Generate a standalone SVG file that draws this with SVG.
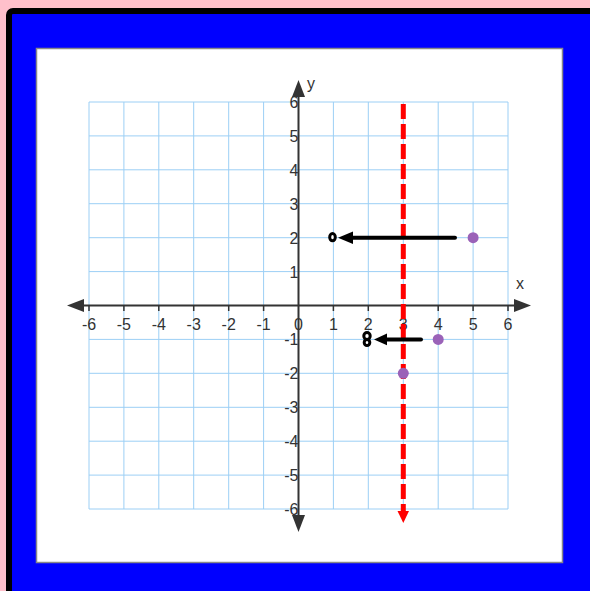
<svg xmlns="http://www.w3.org/2000/svg" width="590" height="591" viewBox="0 0 590 591">
<style>
.grid line{stroke:#9ccff5;stroke-width:1}
.axis{stroke:#333;stroke-width:2}
.ah{fill:#333}
.tick{stroke:#333;stroke-width:1.5}
.lbl{font-family:"Liberation Sans",Arial,sans-serif;font-size:16px;fill:#333}
.xl{text-anchor:middle}
.yl{text-anchor:end}
.pt{fill:#9a62b8}
.mv{stroke:#000;stroke-width:4;stroke-linecap:round}
.mark{fill:#fff;stroke:#000;stroke-width:3}
</style>
<rect x="0" y="0" width="590" height="591" fill="#ffc0cb"/>
<rect x="9" y="11" width="620" height="620" rx="4" fill="#0000ff" stroke="#000" stroke-width="6"/>
<rect x="36.5" y="48.5" width="526" height="514" fill="#fff" stroke="#888" stroke-width="1.5"/>
<g id="grid" class="grid">
<line x1="89" y1="102" x2="89" y2="509"/>
<line x1="123.9" y1="102" x2="123.9" y2="509"/>
<line x1="158.8" y1="102" x2="158.8" y2="509"/>
<line x1="193.7" y1="102" x2="193.7" y2="509"/>
<line x1="228.7" y1="102" x2="228.7" y2="509"/>
<line x1="263.6" y1="102" x2="263.6" y2="509"/>
<line x1="333.4" y1="102" x2="333.4" y2="509"/>
<line x1="368.3" y1="102" x2="368.3" y2="509"/>
<line x1="403.3" y1="102" x2="403.3" y2="509"/>
<line x1="438.2" y1="102" x2="438.2" y2="509"/>
<line x1="473.1" y1="102" x2="473.1" y2="509"/>
<line x1="508" y1="102" x2="508" y2="509"/>
<line x1="89" y1="102" x2="508" y2="102"/>
<line x1="89" y1="135.9" x2="508" y2="135.9"/>
<line x1="89" y1="169.8" x2="508" y2="169.8"/>
<line x1="89" y1="203.7" x2="508" y2="203.7"/>
<line x1="89" y1="237.7" x2="508" y2="237.7"/>
<line x1="89" y1="271.6" x2="508" y2="271.6"/>
<line x1="89" y1="339.4" x2="508" y2="339.4"/>
<line x1="89" y1="373.3" x2="508" y2="373.3"/>
<line x1="89" y1="407.3" x2="508" y2="407.3"/>
<line x1="89" y1="441.2" x2="508" y2="441.2"/>
<line x1="89" y1="475.1" x2="508" y2="475.1"/>
<line x1="89" y1="509" x2="508" y2="509"/>
</g>
<g id="axes">
<line class="axis" x1="82" y1="305.5" x2="516" y2="305.5"/>
<polygon class="ah" points="67,305.5 84,299 84,312"/>
<polygon class="ah" points="531,305.5 514,299 514,312"/>
<line class="axis" x1="298.5" y1="95" x2="298.5" y2="517"/>
<polygon class="ah" points="298.5,80 292,97 305,97"/>
<polygon class="ah" points="298.5,532 292,515 305,515"/>
<g class="tick">
<line x1="89" y1="305.5" x2="89" y2="311"/><line x1="123.9" y1="305.5" x2="123.9" y2="311"/><line x1="158.8" y1="305.5" x2="158.8" y2="311"/><line x1="193.7" y1="305.5" x2="193.7" y2="311"/><line x1="228.7" y1="305.5" x2="228.7" y2="311"/><line x1="263.6" y1="305.5" x2="263.6" y2="311"/><line x1="333.4" y1="305.5" x2="333.4" y2="311"/><line x1="368.3" y1="305.5" x2="368.3" y2="311"/><line x1="403.3" y1="305.5" x2="403.3" y2="311"/><line x1="438.2" y1="305.5" x2="438.2" y2="311"/><line x1="473.1" y1="305.5" x2="473.1" y2="311"/><line x1="508" y1="305.5" x2="508" y2="311"/>
</g>
<text class="lbl" x="520" y="289" text-anchor="middle">x</text>
<text class="lbl" x="311" y="89" text-anchor="middle">y</text>
<g class="lbl xl">
<text x="89" y="330">-6</text><text x="123.9" y="330">-5</text><text x="158.8" y="330">-4</text><text x="193.7" y="330">-3</text><text x="228.7" y="330">-2</text><text x="263.6" y="330">-1</text><text x="298.5" y="330">0</text><text x="333.4" y="330">1</text><text x="368.3" y="330">2</text><text x="403.3" y="330">3</text><text x="438.2" y="330">4</text><text x="473.1" y="330">5</text><text x="508" y="330">6</text>
</g>
<g class="lbl yl">
<text x="298.5" y="108">6</text><text x="298.5" y="141.9">5</text><text x="298.5" y="175.8">4</text><text x="298.5" y="209.7">3</text><text x="298.5" y="243.7">2</text><text x="298.5" y="277.6">1</text><text x="298.5" y="345.4">-1</text><text x="298.5" y="379.3">-2</text><text x="298.5" y="413.3">-3</text><text x="298.5" y="447.2">-4</text><text x="298.5" y="481.1">-5</text><text x="298.5" y="515">-6</text>
</g>
</g>
<g id="reflection-line">
<line x1="403.3" y1="104" x2="403.3" y2="512" stroke="#ff0000" stroke-width="5" stroke-dasharray="15 5"/>
<polygon points="403.3,523 397.5,511 409,511" fill="#ff0000"/>
</g>
<g id="points">
<circle class="pt" cx="473.1" cy="237.7" r="5.5"/>
<circle class="pt" cx="438.2" cy="339.4" r="5.5"/>
<circle class="pt" cx="403.3" cy="373.3" r="5.5"/>
</g>
<g id="connectors">
<line class="mv" x1="455" y1="237.7" x2="350" y2="237.7"/>
<polygon points="338,237.7 353,231.5 353,244" fill="#000"/>
<line class="mv" x1="421" y1="339.4" x2="385" y2="339.4"/>
<polygon points="374,339.4 387,333.5 387,345.3" fill="#000"/>
</g>
<g id="marks">
<ellipse class="mark" cx="332.5" cy="237.2" rx="2.8" ry="3.6"/>
<ellipse class="mark" cx="367" cy="336" rx="3.2" ry="3.4"/>
<ellipse class="mark" cx="367" cy="342.5" rx="2.8" ry="3"/>
</g>
</svg>
